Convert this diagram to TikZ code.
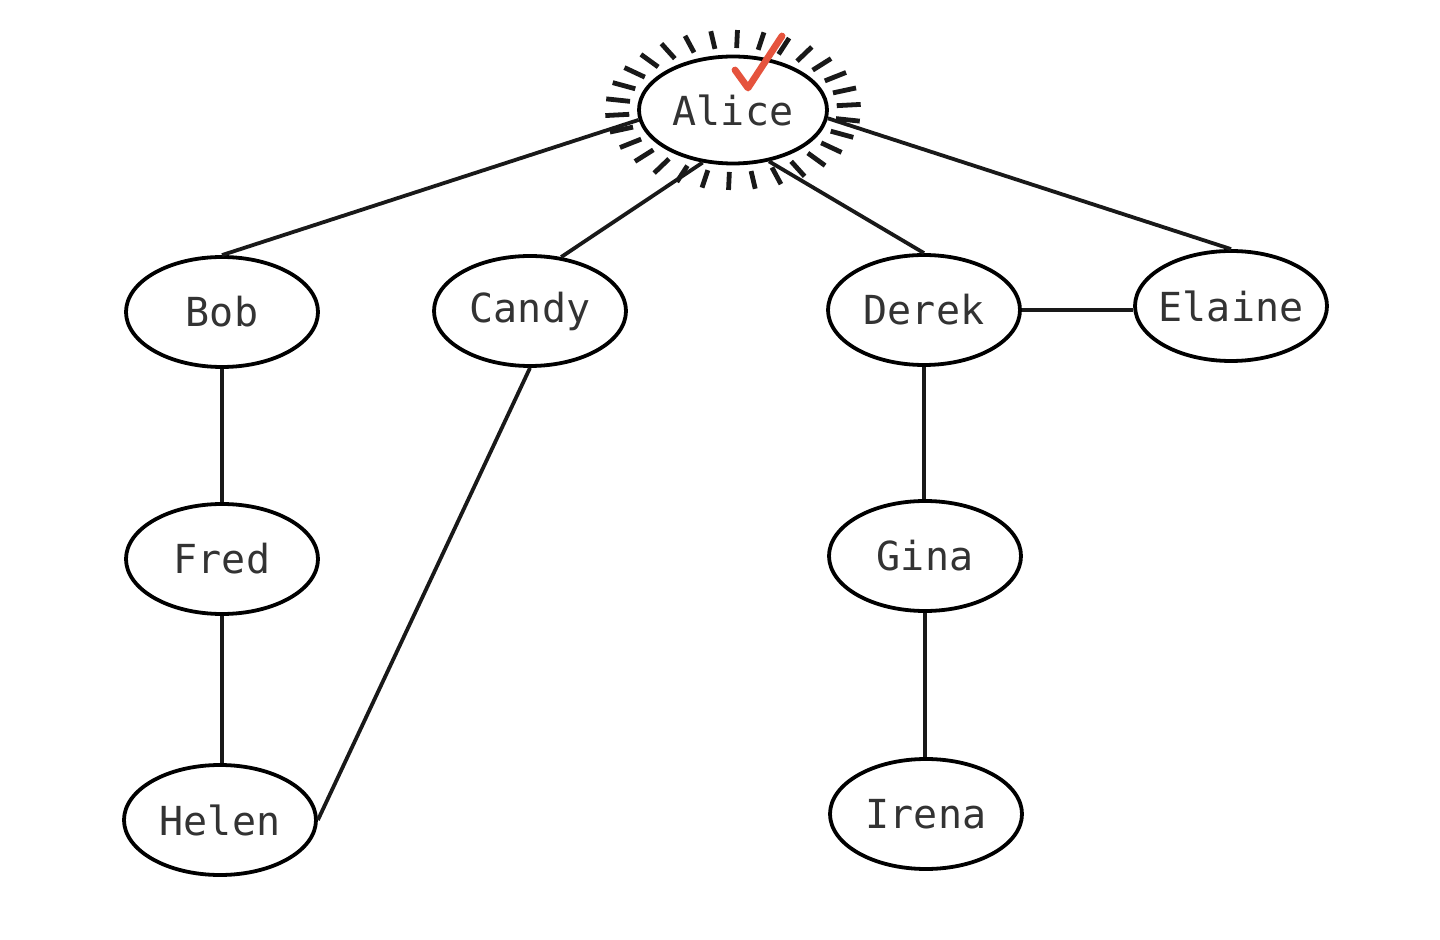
\documentclass[tikz,border=0pt]{standalone}
\usepackage{fontspec}
\setmonofont{DejaVu Sans Mono}
\usetikzlibrary{shapes.geometric}
\definecolor{txt}{HTML}{333333}
\definecolor{chk}{HTML}{E5533D}
\begin{document}
\begin{tikzpicture}[x=0.5pt,y=-0.5pt,
  person/.style={ellipse,draw=black,line width=1.9pt,fill=white,inner sep=0pt,
    minimum width=96pt,minimum height=55pt,text=txt,
    font=\ttfamily\fontsize{20}{24}\selectfont},
  link/.style={line width=1.9pt,draw=black!90},
  ray/.style={line width=2.4pt,draw=black!90}]
\useasboundingbox (0,0) rectangle (1440,940);
\fill[white] (0,0) rectangle (1440,940);
% rays around Alice
\foreach \a in {4,16,...,352}{
  \draw[ray] ({733+104*cos(\a)},{110-62*sin(\a)}) -- ({733+128*cos(\a)},{110-80*sin(\a)});
}
\node[person,minimum width=94pt,minimum height=53.5pt] (alice) at (733,110) {Alice};
\node[person] (bob) at (222,312) {Bob};
\node[person] (candy) at (530,311) {Candy};
\node[person] (derek) at (924,310) {Derek};
\node[person,inner xsep=-4pt] (elaine) at (1231,306) {Elaine};
\node[person] (fred) at (222,559) {Fred};
\node[person] (gina) at (925,556) {Gina};
\node[person] (helen) at (220,820) {Helen};
\node[person] (irena) at (926,814) {Irena};
\draw[link] (bob.north) -- (alice.186);
\draw[link] (candy.60) -- (alice.240);
\draw[link] (derek.north) -- (alice.305);
\draw[link] (elaine.north) -- (alice.-5);
\draw[link] (derek.east) -- (elaine.west |- derek.east);
\draw[link] (bob.south) -- (fred.north);
\draw[link] (fred.south) -- (helen.north -| fred.south);
\draw[link] (candy.south) -- (helen.east);
\draw[link] (derek.south) -- (gina.north -| derek.south);
\draw[link] (gina.south) -- (irena.north -| gina.south);
% check mark
\coordinate (c1) at (735,70);
\coordinate (c2) at (748,88);
\coordinate (c3) at (782,36);
\draw[chk,line width=3.4pt,line cap=round,line join=round] (c1) -- (c2) -- (c3);
\end{tikzpicture}
\end{document}
